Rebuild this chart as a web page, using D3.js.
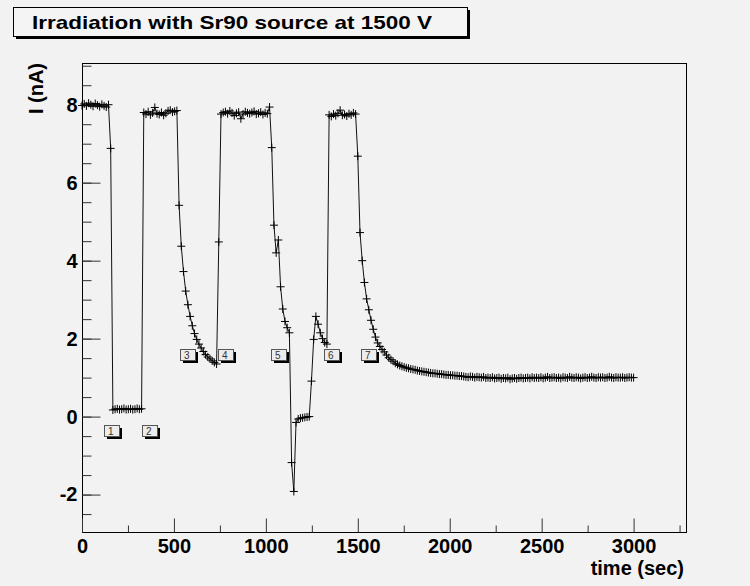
<!DOCTYPE html>
<html>
<head>
<meta charset="utf-8">
<script src="https://cdn.jsdelivr.net/npm/d3@7"></script>
<style>
  body { margin: 0; background: #f2f2f2; }
  text { font-family: "Liberation Sans", Arial, Helvetica, sans-serif; }
</style>
</head>
<body>
<div id="chart"></div>
<script>
// data
var title  = "Irradiation with Sr90 source at 1500 V";
var xLabel = "time (sec)";
var yLabel = "I (nA)";

var xTicks = [0, 500, 1000, 1500, 2000, 2500, 3000];
var yTicks = [-2, 0, 2, 4, 6, 8];

var dt = 12; // seconds between readings

var plateau1 = [7.98, 8.02, 7.97, 8.04, 8.00, 7.96, 8.03, 7.99, 7.95, 8.01, 7.97, 7.94, 8.00];
var drop1    = [6.88];
var low1     = [0.17, 0.19, 0.20, 0.18, 0.19, 0.21, 0.18, 0.19, 0.20, 0.18, 0.19, 0.21, 0.19, 0.20];
var high2    = [7.80, 7.76, 7.82, 7.74, 7.79, 7.93, 7.77, 7.75, 7.80, 7.73, 7.78, 7.84, 7.86, 7.81, 7.83, 7.85];
var decay3   = [5.42, 4.37, 3.72, 3.22, 2.87, 2.57, 2.33, 2.13, 1.98, 1.86, 1.76, 1.67, 1.59, 1.53,
                1.48, 1.43, 1.39, 1.35];
var rise4    = [4.48];
var high4    = [7.76, 7.80, 7.82, 7.77, 7.84, 7.79, 7.72, 7.78, 7.81, 7.64, 7.76, 7.82, 7.79, 7.77,
                7.80, 7.83, 7.76, 7.78, 7.81, 7.75, 7.79, 7.77];
var drop5    = [7.94, 6.90, 4.91, 4.20, 4.53, 3.33, 2.76, 2.44, 2.28, 2.15, -1.18, -1.92];
var low5     = [-0.15, -0.06, -0.04, -0.03, -0.02, -0.01, 0.00];
var bump6    = [0.91, 1.98, 2.57, 2.37, 2.15, 2.00, 1.90, 1.86];
var high6    = [7.74, 7.70, 7.76, 7.72, 7.78, 7.86, 7.73, 7.75, 7.71, 7.77, 7.74, 7.79, 7.76];
var decay7   = [6.68, 4.72, 4.00, 3.44, 3.02, 2.74, 2.47, 2.24, 2.04, 1.89, 1.80, 1.72, 1.66, 1.58,
                1.51, 1.46, 1.42, 1.37, 1.34, 1.31, 1.29, 1.27, 1.25, 1.24, 1.22, 1.21, 1.20, 1.18,
                1.17, 1.16, 1.15, 1.14, 1.13, 1.12, 1.11, 1.11, 1.10, 1.09, 1.09, 1.08, 1.07, 1.07,
                1.06, 1.06, 1.05, 1.05, 1.04, 1.04];
var tail     = [1.03, 1.02, 1.01, 1.03, 1.02, 1.00, 1.02, 1.01, 1.00, 1.02, 0.99,
                1.00, 0.99, 1.01, 0.98, 0.99, 1.00, 0.97, 0.99, 0.98, 1.00, 0.96, 0.98, 0.99, 0.97,
                0.99, 1.00, 0.98,
                0.99, 1.00, 0.98, 1.01, 0.99, 1.00, 0.99, 1.01, 0.98, 1.00,
                1.02, 0.99, 1.00, 1.01, 0.99, 1.00, 0.98, 1.01, 1.00, 0.99,
                1.02, 1.00, 0.99, 1.01, 1.00, 0.98, 1.00, 1.01, 0.99, 1.00,
                1.02, 1.00, 0.99, 1.01, 1.00, 1.01, 0.99, 1.00, 1.02, 1.00,
                0.99, 1.01, 1.00, 1.00, 1.01, 0.99, 1.00, 1.01, 1.00, 1.00];

var current = [].concat(plateau1, drop1, low1, high2, decay3, rise4, high4,
                        drop5, low5, bump6, high6, decay7, tail);

// numbered step markers (top-left corner, in data units)
var stepNames  = ["1", "2", "3", "4", "5", "6", "7"];
var stepTimes  = [121, 328, 534, 737, 1027, 1314, 1519];
var stepLevels = [-0.21, -0.21, 1.73, 1.73, 1.73, 1.73, 1.73];

var W = 750, H = 586;
var padL = 82, padR = 686, padT = 63, padB = 532;

var svg = d3.select("#chart")
  .append("svg")
    .attr("width", W)
    .attr("height", H)
    .style("display", "block");

svg.append("rect")
  .attr("width", W).attr("height", H)
  .attr("fill", "#f2f2f2");

var x = d3.scaleLinear().domain([0, 3285]).range([padL, padR]);
var y = d3.scaleLinear().domain([-2.96, 9.07]).range([padB, padT]);

// title pave with shadow
svg.append("rect")
  .attr("x", 16).attr("y", 10).attr("width", 454).attr("height", 29)
  .attr("fill", "#000");
svg.append("rect")
  .attr("x", 13.5).attr("y", 7.5).attr("width", 454).attr("height", 29)
  .attr("fill", "#f4f4f4").attr("stroke", "#000").attr("stroke-width", 1);
svg.append("text")
  .attr("x", 32).attr("y", 29)
  .attr("font-size", 19).attr("font-weight", "bold")
  .attr("textLength", 400).attr("lengthAdjust", "spacingAndGlyphs")
  .text(title);

// frame
svg.append("rect")
  .attr("x", padL + 0.5).attr("y", padT + 0.5)
  .attr("width", padR - padL).attr("height", padB - padT)
  .attr("fill", "none").attr("stroke", "#000").attr("stroke-width", 1);

// y axis ticks (inward)
var gy = svg.append("g").attr("transform", "translate(" + (padL + 0.5) + ",0)");
gy.append("g").call(d3.axisLeft(y).tickValues(d3.range(-2.5, 9.01, 0.5)).tickSize(-9).tickFormat(""));
gy.append("g").call(d3.axisLeft(y).tickValues(yTicks).tickSize(-18).tickPadding(5).tickFormat((d) => String(d)));
gy.selectAll(".domain").remove();
gy.selectAll("text")
  .attr("font-size", 20).attr("font-weight", "bold")
  .attr("font-family", "Liberation Sans, Arial, sans-serif")
  .attr("fill", "#000");
gy.selectAll("line").attr("stroke", "#333");

// x axis ticks (inward)
var gx = svg.append("g").attr("transform", "translate(0," + (padB + 0.5) + ")");
gx.append("g").call(d3.axisBottom(x).tickValues(d3.range(250, 3285, 500)).tickSize(-7).tickFormat(""));
gx.append("g").call(d3.axisBottom(x).tickValues(xTicks).tickSize(-14).tickPadding(6).tickFormat((d) => String(d)));
gx.selectAll(".domain").remove();
gx.selectAll("text")
  .attr("font-size", 20).attr("font-weight", "bold")
  .attr("font-family", "Liberation Sans, Arial, sans-serif")
  .attr("fill", "#000");
gx.selectAll("line").attr("stroke", "#333");

// axis titles
svg.append("text")
  .attr("x", padR - 2).attr("y", 575)
  .attr("text-anchor", "end")
  .attr("font-size", 20).attr("font-weight", "bold")
  .text(xLabel);

svg.append("text")
  .attr("transform", "translate(43,63) rotate(-90)")
  .attr("text-anchor", "end")
  .attr("font-size", 20).attr("font-weight", "bold")
  .text(yLabel);

// graph
var line = d3.line()
  .x((d, i) => x(i * dt))
  .y((d) => y(d));

svg.append("path")
  .datum(current)
  .attr("d", line)
  .attr("fill", "none")
  .attr("stroke", "#111")
  .attr("stroke-width", 1);

var ms = 4;
svg.append("g")
  .selectAll("path")
  .data(current)
  .enter()
  .append("path")
    .attr("d", (d, i) => {
      var px = x(i * dt), py = y(d);
      return "M" + (px - ms) + "," + py + "h" + (2 * ms) +
             "M" + px + "," + (py - ms) + "v" + (2 * ms);
    })
    .attr("stroke", "#000")
    .attr("stroke-width", 1)
    .attr("fill", "none");

// numbered boxes
var steps = svg.append("g")
  .selectAll("g")
  .data(stepNames)
  .enter()
  .append("g")
    .attr("transform", (d, i) => "translate(" + Math.round(x(stepTimes[i])) + "," + Math.round(y(stepLevels[i])) + ")");

steps.append("rect")
  .attr("x", 3).attr("y", 3).attr("width", 15).attr("height", 11)
  .attr("fill", "#000");
steps.append("rect")
  .attr("x", 0.5).attr("y", 0.5).attr("width", 15).attr("height", 11)
  .attr("fill", "#ececec").attr("stroke", "#555").attr("stroke-width", 1);
steps.append("text")
  .attr("x", 4).attr("y", 10)
  .attr("font-size", 10)
  .attr("fill", "#333")
  .text((d) => d);
</script>
</body>
</html>
